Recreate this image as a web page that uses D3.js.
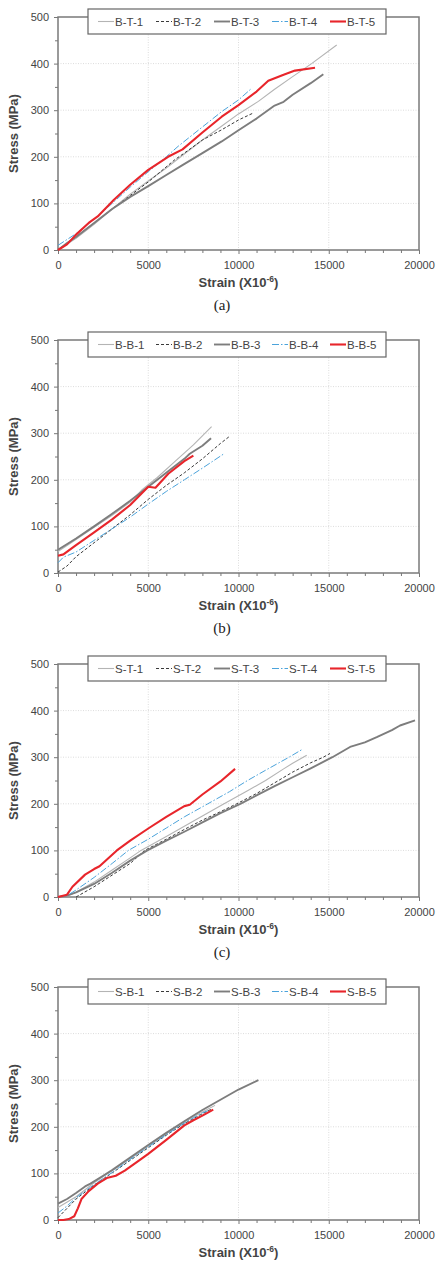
<!DOCTYPE html>
<html><head><meta charset="utf-8">
<script src="https://cdn.jsdelivr.net/npm/d3@7"></script>
<style>body{margin:0;background:#fff;} svg{display:block;}</style>
</head><body>
<script>
// ---------- data (strain x10^-6, stress MPa) ----------
const xTicks = [0, 5000, 10000, 15000, 20000];
const yTicks = [0, 100, 200, 300, 400, 500];
const captions = ["(a)", "(b)", "(c)"];

const namesA = ["B-T-1", "B-T-2", "B-T-3", "B-T-4", "B-T-5"];
const namesB = ["B-B-1", "B-B-2", "B-B-3", "B-B-4", "B-B-5"];
const namesC = ["S-T-1", "S-T-2", "S-T-3", "S-T-4", "S-T-5"];
const namesD = ["S-B-1", "S-B-2", "S-B-3", "S-B-4", "S-B-5"];

const BT1 = [[0,0],[1000,25],[2000,55],[3000,88],[4000,120],[5000,148],[6000,176],[6800,200],[8000,236],[9000,264],[10000,292],[11100,319],[12000,345],[13000,372],[14050,400],[15440,440]];
const BT2 = [[0,0],[1000,28],[2000,58],[3000,88],[4000,117],[5000,146],[6480,194],[7000,208],[8000,236],[9070,258],[10000,279],[10820,294]];
const BT3 = [[0,0],[500,15],[1000,28],[2000,58],[3000,88],[4000,114],[5000,137],[6000,161],[6850,181],[8000,208],[9070,233],[10000,257],[11000,282],[12000,310],[12500,318],[13000,333],[14000,358],[14700,377]];
const BT4 = [[0,10],[1000,35],[2000,66],[3000,100],[4000,135],[5000,168],[6000,200],[6670,223],[8000,264],[9070,297],[10000,322],[10730,347]];
const BT5 = [[0,0],[500,12],[1000,33],[1700,58],[2200,72],[3100,108],[4000,140],[5000,172],[6100,200],[6900,216],[8000,252],[9070,286],[10000,311],[11000,340],[11650,363],[12500,376],[13130,385],[14240,391]];

const BB1 = [[0,46],[1000,72],[2000,98],[3000,124],[4000,152],[4640,178],[5500,205],[6500,240],[7500,275],[8510,314]];
const BB2 = [[0,2],[500,15],[1000,35],[2000,65],[3000,95],[4000,125],[5000,158],[6000,188],[7000,215],[8000,245],[9000,278],[9530,294]];
const BB3 = [[0,50],[1000,74],[2000,100],[3000,127],[4000,155],[5000,185],[6000,215],[7000,245],[7300,256],[8000,273],[8480,289]];
const BB4 = [[0,22],[300,34],[1000,45],[2000,70],[3000,95],[4000,120],[5000,148],[6000,175],[7000,200],[8000,225],[9160,255]];
const BB5 = [[0,37],[300,40],[1000,60],[2000,87],[3000,115],[4000,146],[5000,185],[5400,183],[6110,213],[7000,240],[7500,252]];

const ST1 = [[0,0],[500,2],[1000,10],[2000,32],[3000,58],[4000,84],[4600,100],[6000,130],[7000,152],[8000,174],[9200,200],[10500,228],[11500,250],[12500,275],[13000,287],[13780,304]];
const ST2 = [[1000,0],[2000,22],[3000,47],[4000,72],[4800,100],[6000,124],[7000,145],[8000,165],[9000,183],[9900,200],[11000,222],[12000,245],[13000,268],[14000,288],[14700,300],[15070,308]];
const ST3 = [[0,0],[500,3],[1000,10],[2000,28],[3000,52],[4000,78],[4950,100],[6000,121],[7000,140],[8000,160],[9000,180],[10100,200],[11000,218],[12000,238],[13000,257],[14000,276],[15200,300],[16180,322],[17000,332],[17660,343],[18500,358],[18950,368],[19780,379]];
const ST4 = [[0,0],[500,3],[1000,15],[2000,42],[3000,72],[3900,100],[5000,124],[6000,148],[7000,172],[8300,200],[9500,226],[10500,250],[11500,272],[12800,300],[13500,316]];
const ST5 = [[0,0],[500,5],[800,22],[1500,48],[2000,60],[2300,66],[3260,100],[4000,121],[5000,147],[6000,172],[7000,195],[7300,198],[8000,220],[9000,248],[9810,275]];

const SB1 = [[0,27],[1000,50],[2000,80],[3000,106],[4000,132],[5000,158],[6000,185],[7000,210],[8000,232],[8700,246]];
const SB2 = [[0,5],[500,25],[1000,45],[1500,60],[2000,75],[3000,101],[4000,128],[5000,155],[6000,182],[7000,207],[8000,228],[8500,238]];
const SB3 = [[0,35],[500,45],[1000,58],[1500,72],[1800,78],[2500,95],[3000,107],[4000,134],[5000,161],[6000,187],[7000,212],[8000,236],[9000,258],[10000,280],[11100,300]];
const SB4 = [[0,15],[500,30],[1000,48],[2000,76],[3000,102],[4000,130],[5000,157],[6000,183],[7000,208],[8000,230],[8400,236]];
const SB5 = [[0,0],[300,0],[600,2],[900,8],[1100,25],[1300,45],[1700,62],[2200,78],[2700,90],[3200,95],[3700,106],[4500,128],[5000,142],[6000,172],[7000,203],[7500,214],[8000,224],[8600,237]];

// ---------- layout ----------
const W = 440, H = 1271;
const left = 58, right = 419, plotH = 233;
const panelTops = [17, 340, 664, 987];
const panels = [
  {names: namesA, series: [BT1, BT2, BT3, BT4, BT5]},
  {names: namesB, series: [BB1, BB2, BB3, BB4, BB5]},
  {names: namesC, series: [ST1, ST2, ST3, ST4, ST5]},
  {names: namesD, series: [SB1, SB2, SB3, SB4, SB5]}
];
const styles = [
  {stroke: "#b4b4b4", width: 1.1, dash: null},
  {stroke: "#3a3a3a", width: 1, dash: "3,2"},
  {stroke: "#7d7d7d", width: 1.9, dash: null},
  {stroke: "#4ba3db", width: 1, dash: "7,2,1.5,2"},
  {stroke: "#e8252b", width: 2.1, dash: null}
];
const sans = "'Liberation Sans', Arial, Helvetica, sans-serif";

const svg = d3.select("body").append("svg").attr("width", W).attr("height", H);

const x = d3.scaleLinear().domain([0, 20000]).range([left, right]);
const y = d3.scaleLinear().domain([0, 500]).range([plotH, 0]);
const fmt = d3.format("d");

panels.forEach((p, pi) => {
  const g = svg.append("g").attr("transform", `translate(0,${panelTops[pi]})`);

  // gridlines
  g.append("g").selectAll("line").data(yTicks.slice(1, -1)).join("line")
    .attr("x1", left).attr("x2", right).attr("y1", d => y(d)).attr("y2", d => y(d))
    .attr("stroke", "#dcdcdc").attr("stroke-width", 1).attr("stroke-dasharray", "1,1.5");
  g.append("g").selectAll("line").data(xTicks.slice(1, -1)).join("line")
    .attr("y1", 0).attr("y2", plotH).attr("x1", d => x(d)).attr("x2", d => x(d))
    .attr("stroke", "#dcdcdc").attr("stroke-width", 1).attr("stroke-dasharray", "1,1.5");

  // axes
  const yAx = g.append("g").attr("transform", `translate(${left},0)`)
    .call(d3.axisLeft(y).tickValues(yTicks).tickFormat(fmt).tickSize(4).tickPadding(5));
  const yMin = g.append("g").attr("transform", `translate(${left},0)`)
    .call(d3.axisLeft(y).tickValues(d3.range(50, 500, 100)).tickSize(3).tickFormat(""));
  const xAx = g.append("g").attr("transform", `translate(0,${plotH})`)
    .call(d3.axisBottom(x).tickValues(xTicks).tickFormat(fmt).tickSize(4).tickPadding(7));
  const xMin = g.append("g").attr("transform", `translate(0,${plotH})`)
    .call(d3.axisBottom(x).tickValues(d3.range(1000, 20000, 1000).filter(v => v % 5000 !== 0)).tickSize(3).tickFormat(""));
  [yAx, yMin, xAx, xMin].forEach(a => {
    a.select(".domain").remove();
    a.selectAll("line").attr("stroke", "#777").attr("stroke-width", 1);
    a.selectAll("text").attr("fill", "#444").attr("font-size", 11).attr("font-family", sans);
  });

  // frame
  g.append("rect").attr("x", left).attr("y", 0).attr("width", right - left).attr("height", plotH)
    .attr("fill", "none").attr("stroke", "#7a7a7a").attr("stroke-width", 1.5);

  // series
  const line = d3.line().x(d => x(d[0])).y(d => y(d[1])).curve(d3.curveLinear);
  p.series.forEach((s, i) => {
    g.append("path").datum(s).attr("d", line).attr("fill", "none")
      .attr("stroke", styles[i].stroke).attr("stroke-width", styles[i].width)
      .attr("stroke-dasharray", styles[i].dash).attr("stroke-linejoin", "round");
  });

  // legend
  const lg = g.append("g");
  lg.append("rect").attr("x", 88).attr("y", -8).attr("width", 298).attr("height", 25)
    .attr("fill", "#fff").attr("stroke", "#666").attr("stroke-width", 1.2);
  p.names.forEach((n, i) => {
    const tx = 115 + i * 58;
    lg.append("line").attr("x1", tx - 17).attr("x2", tx - 1).attr("y1", 4.5).attr("y2", 4.5)
      .attr("stroke", styles[i].stroke).attr("stroke-width", styles[i].width)
      .attr("stroke-dasharray", styles[i].dash);
    lg.append("text").attr("x", tx).attr("y", 8.5).text(n)
      .attr("font-family", sans).attr("font-size", 11.5).attr("fill", "#444");
  });

  // axis titles
  const xt = g.append("text").attr("x", (left + right) / 2).attr("y", plotH + 37)
    .attr("text-anchor", "middle").attr("font-family", sans).attr("font-weight", "bold")
    .attr("font-size", 13).attr("fill", "#444");
  xt.append("tspan").text("Strain (X10");
  xt.append("tspan").attr("dy", -5).attr("font-size", 8.5).text("-6");
  xt.append("tspan").attr("dy", 5).text(")");

  g.append("text").attr("transform", `translate(18,${plotH / 2}) rotate(-90)`)
    .attr("text-anchor", "middle").attr("font-family", sans).attr("font-weight", "bold")
    .attr("font-size", 13).attr("fill", "#444").text("Stress (MPa)");

  // caption (the reference shows captions for the first three panels only)
  if (captions[pi]) {
    g.append("text").attr("x", 222).attr("y", plotH + 60).attr("text-anchor", "middle")
      .attr("font-family", "'Liberation Serif', 'Times New Roman', serif").attr("font-size", 15)
      .attr("fill", "#222").text(captions[pi]);
  }
});
</script>
</body></html>
